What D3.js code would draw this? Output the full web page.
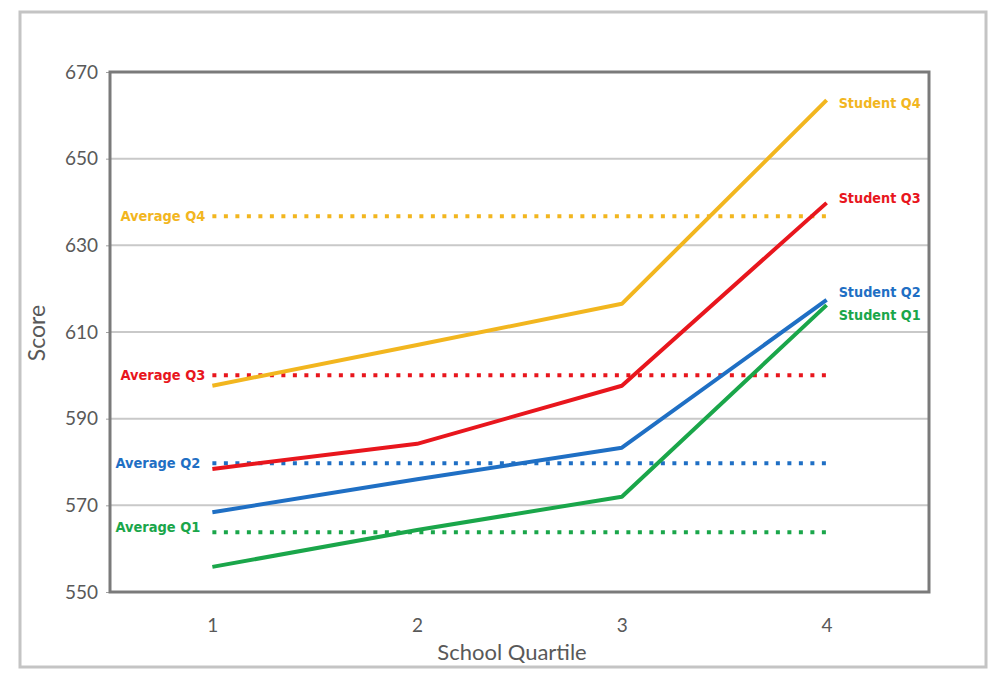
<!DOCTYPE html>
<html>
<head>
<meta charset="utf-8">
<script src="https://cdn.jsdelivr.net/npm/d3@7"></script>
<style>
  html, body { margin: 0; padding: 0; background: #fff; }
  svg { display: block; }
</style>
</head>
<body>
<svg id="chart" width="998" height="677"></svg>
<script>
// School quartile on the x axis, score on the y axis
const quartiles = ["1", "2", "3", "4"];
const studentQ1 = [555.8, 564.3, 572.0, 616.2];
const studentQ2 = [568.4, 576.0, 583.3, 617.4];
const studentQ3 = [578.4, 584.2, 597.6, 639.8];
const studentQ4 = [597.6, 607.0, 616.5, 663.5];
const averageScores = [563.8, 579.7, 600.0, 636.7];   // Q1..Q4
const yTicks = [550, 570, 590, 610, 630, 650, 670];

const colors = { q1: "#1aa64a", q2: "#1f6fc4", q3: "#e8161d", q4: "#f2b61f" };

const series = [
  { name: "Student Q1", values: studentQ1, color: colors.q1, avg: averageScores[0], avgName: "Average Q1", nudge: 10, avgNudge: -5, avgShift: -5 },
  { name: "Student Q2", values: studentQ2, color: colors.q2, avg: averageScores[1], avgName: "Average Q2", nudge: -8, avgNudge: 0, avgShift: -5 },
  { name: "Student Q3", values: studentQ3, color: colors.q3, avg: averageScores[2], avgName: "Average Q3", nudge: -5, avgNudge: 0, avgShift: 0 },
  { name: "Student Q4", values: studentQ4, color: colors.q4, avg: averageScores[3], avgName: "Average Q4", nudge: 3, avgNudge: 0, avgShift: 0 }
];

const svg = d3.select("#chart");
const plot = { left: 110, right: 929, top: 72, bottom: 592 };
const axisFont = "Lato, 'Open Sans', sans-serif";
const labelFont = "'DejaVu Sans Condensed', 'Liberation Sans Narrow', sans-serif";

// outer frame
svg.append("rect")
  .attr("x", 20).attr("y", 12).attr("width", 966).attr("height", 655)
  .attr("fill", "#fff").attr("stroke", "#c4c4c4").attr("stroke-width", 3);

const x = d3.scalePoint().domain(quartiles).range([plot.left, plot.right]).padding(0.5);
const y = d3.scaleLinear().domain([550, 670]).range([plot.bottom, plot.top]);

// horizontal gridlines
svg.append("g")
  .selectAll("line")
  .data(yTicks.slice(1, -1))
  .join("line")
  .attr("x1", plot.left).attr("x2", plot.right)
  .attr("y1", d => y(d)).attr("y2", d => y(d))
  .attr("stroke", "#c9c9c9").attr("stroke-width", 2);

// y axis
const yAxis = svg.append("g")
  .attr("transform", `translate(${plot.left},0)`)
  .call(d3.axisLeft(y).tickValues(yTicks).tickSize(4).tickPadding(8));
yAxis.select(".domain").remove();
yAxis.selectAll(".tick line").attr("stroke", "#a0a0a0");
yAxis.selectAll(".tick text")
  .attr("fill", "#595959").attr("font-family", axisFont).attr("font-size", 19);

// x axis labels
const xAxis = svg.append("g")
  .attr("transform", `translate(0,${plot.bottom})`)
  .call(d3.axisBottom(x).tickSize(0).tickPadding(27));
xAxis.select(".domain").remove();
xAxis.selectAll(".tick text")
  .attr("fill", "#595959").attr("font-family", axisFont).attr("font-size", 19);

// plot frame
svg.append("rect")
  .attr("x", plot.left).attr("y", plot.top)
  .attr("width", plot.right - plot.left).attr("height", plot.bottom - plot.top)
  .attr("fill", "none").attr("stroke", "#7a7a7a").attr("stroke-width", 3);

// axis titles
svg.append("text")
  .attr("x", 512).attr("y", 652).attr("dy", "0.35em").attr("text-anchor", "middle")
  .attr("fill", "#595959").attr("font-family", axisFont).attr("font-size", 22)
  .text("School Quartile");
svg.append("text")
  .attr("transform", `translate(37,333) rotate(-90)`).attr("dy", "0.35em").attr("text-anchor", "middle")
  .attr("fill", "#595959").attr("font-family", axisFont).attr("font-size", 23)
  .text("Score");

// dotted average lines with their labels
const avgG = svg.append("g");
series.forEach(s => {
  avgG.append("line")
    .attr("x1", x(quartiles[0])).attr("x2", x(quartiles[quartiles.length - 1]))
    .attr("y1", y(s.avg)).attr("y2", y(s.avg))
    .attr("stroke", s.color).attr("stroke-width", 4)
    .attr("stroke-dasharray", "4 7.5");
  avgG.append("text")
    .attr("x", x(quartiles[0]) - 7 + s.avgShift).attr("y", y(s.avg) + s.avgNudge)
    .attr("dy", "0.35em").attr("text-anchor", "end")
    .attr("fill", s.color).attr("font-family", labelFont).attr("font-weight", "bold").attr("font-size", 14)
    .attr("textLength", 85).attr("lengthAdjust", "spacingAndGlyphs")
    .text(s.avgName);
});

// student lines with end labels
const line = d3.line().x((d, i) => x(quartiles[i])).y(d => y(d));
const lineG = svg.append("g");
series.forEach(s => {
  lineG.append("path")
    .datum(s.values)
    .attr("d", line)
    .attr("fill", "none").attr("stroke", s.color).attr("stroke-width", 4)
    .attr("stroke-linejoin", "round").attr("stroke-linecap", "butt");
  const last = s.values[s.values.length - 1];
  lineG.append("text")
    .attr("x", x(quartiles[quartiles.length - 1]) + 12).attr("y", y(last) + s.nudge)
    .attr("dy", "0.35em")
    .attr("fill", s.color).attr("font-family", labelFont).attr("font-weight", "bold").attr("font-size", 14)
    .attr("textLength", 82).attr("lengthAdjust", "spacingAndGlyphs")
    .text(s.name);
});
</script>
</body>
</html>
